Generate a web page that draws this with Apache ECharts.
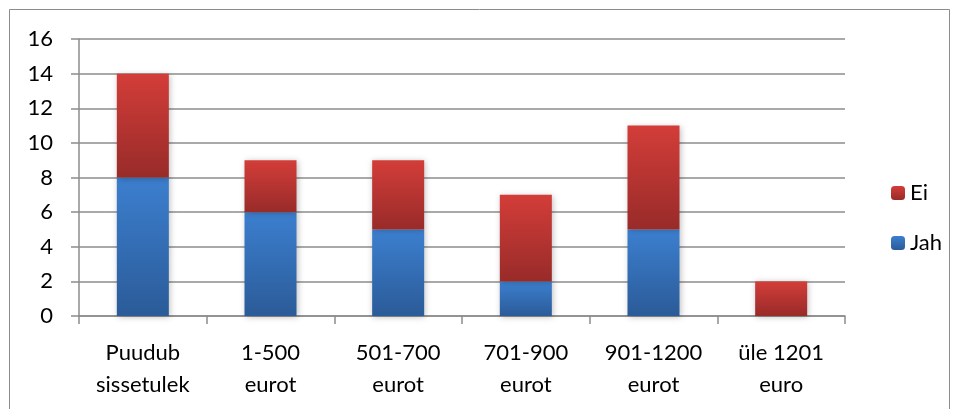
<!DOCTYPE html>
<html>
<head>
<meta charset="utf-8">
<script src="https://cdn.jsdelivr.net/npm/echarts@6/dist/echarts.min.js"></script>
<style>
  html, body { margin: 0; padding: 0; background: #fff; }
  #app { width: 956px; height: 409px; }
</style>
</head>
<body>
<div id="app"></div>
<script>
const categories = ['Puudub\nsissetulek', '1-500\neurot', '501-700\neurot', '701-900\neurot', '901-1200\neurot', 'üle 1201\neuro'];
const jahValues = [8, 6, 5, 2, 5, 0];
const eiValues = [6, 3, 4, 5, 6, 2];
const yTicks = { min: 0, max: 16, interval: 2 };

const font = 'Lato, "Open Sans", sans-serif';

const grad = (top, bottom) => new echarts.graphic.LinearGradient(0, 0, 0, 1, [
  { offset: 0, color: top },
  { offset: 1, color: bottom }
]);

const blue = grad('#3c7fcf', '#2b5b98');
const red = grad('#d33d39', '#982b29');

const chart = echarts.init(document.getElementById('app'));

const option = {
  animation: false,
  graphic: [{
    type: 'rect',
    shape: { x: 9.5, y: 9.5, width: 940, height: 420 },
    style: { fill: 'none', stroke: '#8c8c8c', lineWidth: 1 },
    silent: true
  }],
  grid: { left: 79, right: 111, top: 39, bottom: 93 },
  legend: {
    orient: 'vertical',
    left: 886,
    top: 177,
    itemWidth: 14,
    itemHeight: 14,
    itemGap: 28,
    data: ['Ei', 'Jah'],
    textStyle: { fontFamily: font, fontSize: 22, color: '#000' }
  },
  xAxis: {
    type: 'category',
    data: categories,
    axisLine: { lineStyle: { color: '#8c8c8c', width: 1.5 } },
    axisTick: { show: true, length: 8, lineStyle: { color: '#8c8c8c', width: 1.5 } },
    axisLabel: { fontFamily: font, fontSize: 22, color: '#000', margin: 21, lineHeight: 32 }
  },
  yAxis: {
    type: 'value',
    min: yTicks.min,
    max: yTicks.max,
    interval: yTicks.interval,
    axisLine: { show: true, lineStyle: { color: '#8c8c8c', width: 1.5 } },
    axisTick: { show: true, length: 8, lineStyle: { color: '#8c8c8c', width: 1.5 } },
    axisLabel: { fontFamily: font, fontSize: 22, color: '#000', margin: 26 },
    splitLine: { lineStyle: { color: '#8c8c8c', width: 1.5 } }
  },
  series: [
    {
      name: 'Jah',
      type: 'bar',
      stack: 'total',
      barWidth: 52,
      data: jahValues,
      itemStyle: { color: blue, shadowBlur: 6, shadowColor: 'rgba(0,0,0,0.25)', shadowOffsetX: 1, shadowOffsetY: 1 }
    },
    {
      name: 'Ei',
      type: 'bar',
      stack: 'total',
      barWidth: 52,
      data: eiValues,
      itemStyle: { color: red, shadowBlur: 6, shadowColor: 'rgba(0,0,0,0.25)', shadowOffsetX: 1, shadowOffsetY: 1 }
    }
  ]
};

chart.setOption(option);
</script>
</body>
</html>
